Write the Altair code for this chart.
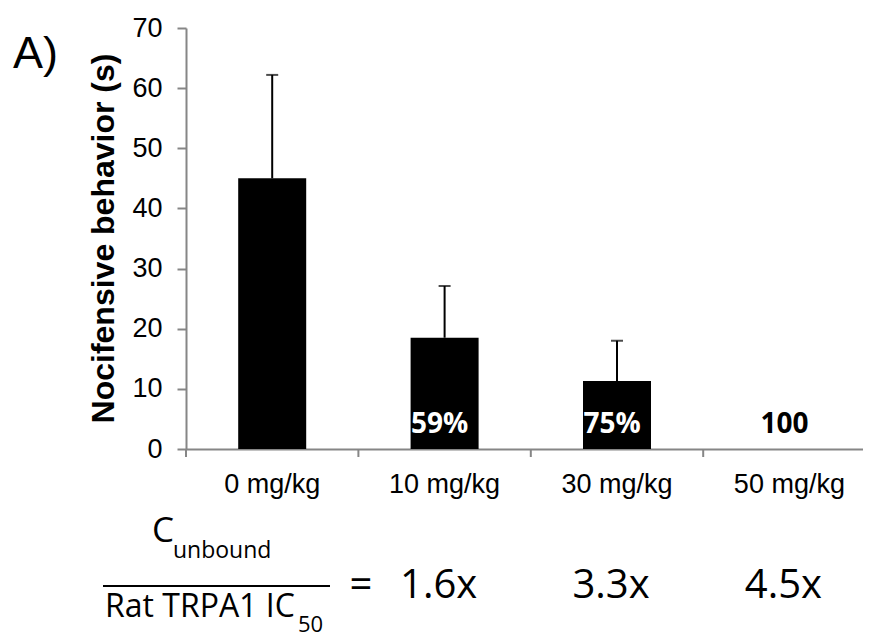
import altair as alt
import pandas as pd

# ---- data ----
doses = ["0 mg/kg", "10 mg/kg", "30 mg/kg", "50 mg/kg"]
means = [45.0, 18.5, 11.3, 0.0]
errors = [17.2, 8.6, 6.7, 0.0]
inhibition = ["", "59%", "75%", "100"]
ratio_doses = ["10 mg/kg", "30 mg/kg", "50 mg/kg"]
ratios = ["1.6x", "3.3x", "4.5x"]
y_ticks = [0, 10, 20, 30, 40, 50, 60, 70]

df = pd.DataFrame({"dose": doses, "mean": means, "err": errors, "label": inhibition})
df_ratio = pd.DataFrame({"dose": ratio_doses, "ratio": ratios})

GRAY = "#868686"
ARIAL = "Liberation Sans"
CAL = "Open Sans"
H = 421

x_enc = alt.X(
    "dose:N",
    sort=doses,
    scale=alt.Scale(range=[0, 689.6], paddingInner=0, paddingOuter=0),
    axis=alt.Axis(
        title=None,
        labelAngle=0,
        labelFont=ARIAL,
        labelFontSize=27,
        labelColor="black",
        labelPadding=22,
        ticks=False,
        domainColor=GRAY,
        domainWidth=2,
        grid=False,
    ),
)
y_scale = alt.Scale(domain=[0, 70], nice=False)
y_enc = alt.Y(
    "mean:Q",
    scale=y_scale,
    axis=alt.Axis(
        title="Nocifensive behavior (s)",
        values=y_ticks,
        grid=False,
        labelFont=ARIAL,
        labelFontSize=27,
        labelColor="black",
        labelPadding=15,
        tickSize=9,
        tickWidth=2,
        tickColor=GRAY,
        domainColor=GRAY,
        domainWidth=2,
        titleFont=ARIAL,
        titleFontSize=32,
        titleFontWeight="bold",
        titleColor="black",
        titleAngle=270,
        titleX=-73,
        titleY=210,
        titleAlign="center",
        titleBaseline="alphabetic",
    ),
)

base = alt.Chart(df)

bars = base.mark_bar(color="black", width=68).encode(x=x_enc, y=y_enc)

err_base = base.transform_filter(alt.datum.err > 0).transform_calculate(
    upper="datum.mean + datum.err"
)
err_line = err_base.mark_rule(color="black", strokeWidth=2).encode(
    x=alt.X("dose:N", sort=doses),
    y=alt.Y("mean:Q", scale=y_scale),
    y2="upper:Q",
)
err_cap = err_base.mark_tick(color="black", orient="horizontal", size=12, thickness=2).encode(
    x=alt.X("dose:N", sort=doses),
    y=alt.Y("upper:Q", scale=y_scale),
)

xticks = base.mark_rule(color=GRAY, strokeWidth=2).encode(
    x=alt.X("dose:N", sort=doses, bandPosition=0),
    y=alt.value(H),
    y2=alt.value(H + 8),
)

bar_labels = base.mark_text(
    font=CAL, fontSize=28, fontWeight="bold", baseline="alphabetic", align="center", dx=-5
).encode(
    x=alt.X("dose:N", sort=doses),
    y=alt.value(405),
    text="label:N",
    color=alt.condition(alt.datum.mean > 0, alt.value("white"), alt.value("black")),
)

ratio_text = alt.Chart(df_ratio).mark_text(
    font=CAL, fontSize=40, baseline="alphabetic", align="center", dx=-6, color="black"
).encode(
    x=alt.X("dose:N", sort=doses),
    y=alt.value(570),
    text="ratio:N",
)

one = alt.Data(values=[{"k": 1}])


def fixed_text(txt, x, y, font, size, weight="normal", align="left"):
    return alt.Chart(one).mark_text(
        text=txt, font=font, fontSize=size, fontWeight=weight,
        align=align, baseline="alphabetic", color="black",
    ).encode(x=alt.value(x), y=alt.value(y))


panel = fixed_text("A)", -173, 40, ARIAL, 45)
c_txt = fixed_text("C", -34, 514, CAL, 35)
unb_txt = fixed_text("unbound", -13, 530, CAL, 23)
rat_txt = fixed_text("Rat TRPA1 IC", -81, 589, CAL, 32)
sub50 = fixed_text("50", 112, 604, CAL, 22)
eq_txt = fixed_text("=", 175, 570, CAL, 40, align="center")
frac_line = alt.Chart(one).mark_rule(color="black", strokeWidth=2).encode(
    x=alt.value(-83), x2=alt.value(144), y=alt.value(558)
)

chart = alt.layer(
    bars, err_line, err_cap, xticks, bar_labels, ratio_text,
    panel, c_txt, unb_txt, rat_txt, sub50, eq_txt, frac_line,
).properties(
    width=677,
    height=H,
    autosize=alt.AutoSizeParams(type="none"),
    padding={"left": 178, "top": 20, "right": 0, "bottom": 190},
    background="white",
).configure_view(stroke=None)

chart.save("out.html", embed_options={"renderer": "svg", "actions": False})
